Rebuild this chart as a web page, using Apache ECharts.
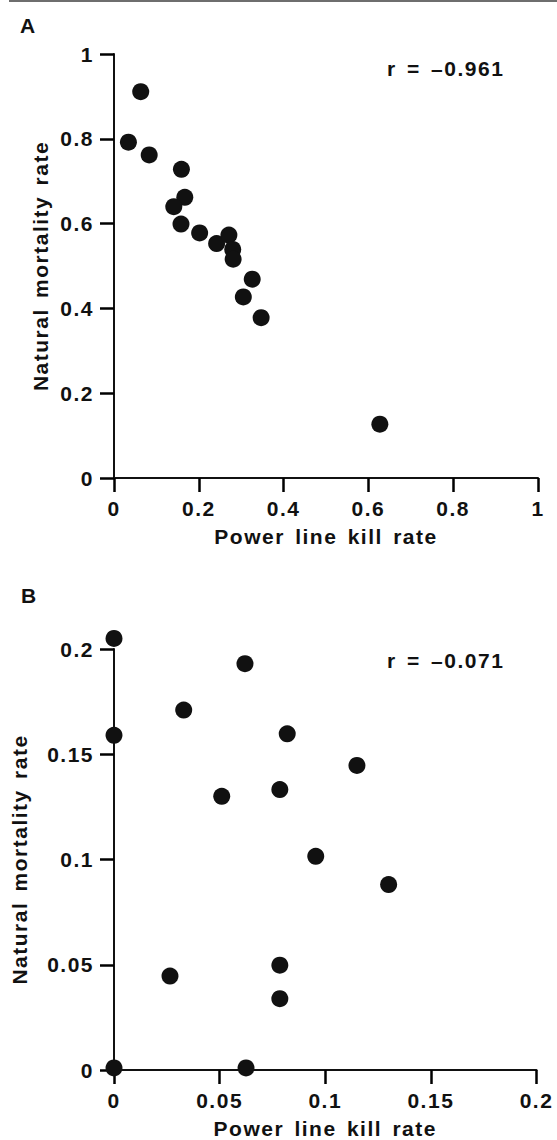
<!DOCTYPE html>
<html><head><meta charset="utf-8">
<script src="https://cdn.jsdelivr.net/npm/echarts@6/dist/echarts.min.js"></script>
<style>
html,body{margin:0;padding:0;background:#fff;}
#chart{width:557px;height:1140px;}
#chart text{letter-spacing:1.5px;word-spacing:3px;}
</style></head><body><div id="chart"></div>
<script>
const killRateA = [0.034,0.063,0.083,0.159,0.167,0.141,0.158,0.202,0.242,0.271,0.280,0.281,0.326,0.305,0.347,0.627];
const mortalityA = [0.792,0.911,0.762,0.728,0.662,0.640,0.599,0.578,0.553,0.573,0.539,0.516,0.469,0.427,0.378,0.127];
const killRateB = [0,0.062,0.033,0,0.082,0.115,0.051,0.0785,0.0955,0.13,0.0265,0.0785,0.0785,0,0.0625];
const mortalityB = [0.205,0.193,0.171,0.159,0.1597,0.1447,0.130,0.1332,0.1015,0.0881,0.0446,0.0498,0.0339,0.001,0.001];
const ticksA = ['0','0.2','0.4','0.6','0.8','1'];
const ticksB = ['0','0.05','0.1','0.15','0.2'];
const panelLabels = ['A','B'];
const rLabels = ['r = \u20130.961','r = \u20130.071'];
const xTitle = 'Power line kill rate';
const yTitle = 'Natural mortality rate';

const FONT = 'Liberation Sans';
const INK = '#111111';
const txt = {fontFamily: FONT, fontWeight: 'bold', fontSize: 21, color: INK};

function axis(extra, ticks, max, step) {
  return Object.assign({
    type: 'value', min: 0, max: max, interval: step,
    axisLine: {show: true, onZero: false, lineStyle: {color: INK, width: 2}},
    axisTick: {show: true, inside: false, length: 14, lineStyle: {color: '#000000', width: 2.5}},
    splitLine: {show: false},
    axisLabel: Object.assign({margin: 20, formatter: (v, i) => ticks[i]}, txt),
    nameLocation: 'middle',
    nameTextStyle: txt
  }, extra);
}

const chart = echarts.init(document.getElementById('chart'), null, {renderer: 'svg'});
chart.setOption({
  animation: false,
  backgroundColor: '#fff',
  graphic: [{type: 'rect', left: 9, top: 0, shape: {width: 548, height: 2}, style: {fill: '#6e6e6e'}}],
  title: [
    {text: panelLabels[0], left: 20, top: 15, padding: 0, textStyle: txt},
    {text: panelLabels[1], left: 21, top: 585, padding: 0, textStyle: txt},
    {text: rLabels[0], left: 387, top: 58, padding: 0, textStyle: txt},
    {text: rLabels[1], left: 387, top: 650, padding: 0, textStyle: txt}
  ],
  grid: [
    {left: 114, top: 54, width: 424, height: 424},
    {left: 114, top: 649, width: 422.5, height: 422}
  ],
  xAxis: [
    axis({gridIndex: 0, name: xTitle, nameGap: 48}, ticksA, 1, 0.2),
    axis({gridIndex: 1, name: xTitle, nameGap: 48}, ticksB, 0.2, 0.05)
  ],
  yAxis: [
    axis({gridIndex: 0, name: yTitle, nameGap: 63, nameRotate: 90}, ticksA, 1, 0.2),
    axis({gridIndex: 1, name: yTitle, nameGap: 84, nameRotate: 90}, ticksB, 0.2, 0.05)
  ],
  series: [
    {type: 'scatter', xAxisIndex: 0, yAxisIndex: 0, clip: false, symbolSize: 17,
     itemStyle: {color: '#111', opacity: 1}, data: killRateA.map((x, i) => [x, mortalityA[i]])},
    {type: 'scatter', xAxisIndex: 1, yAxisIndex: 1, clip: false, symbolSize: 17,
     itemStyle: {color: '#111', opacity: 1}, data: killRateB.map((x, i) => [x, mortalityB[i]])}
  ]
});
</script></body></html>
